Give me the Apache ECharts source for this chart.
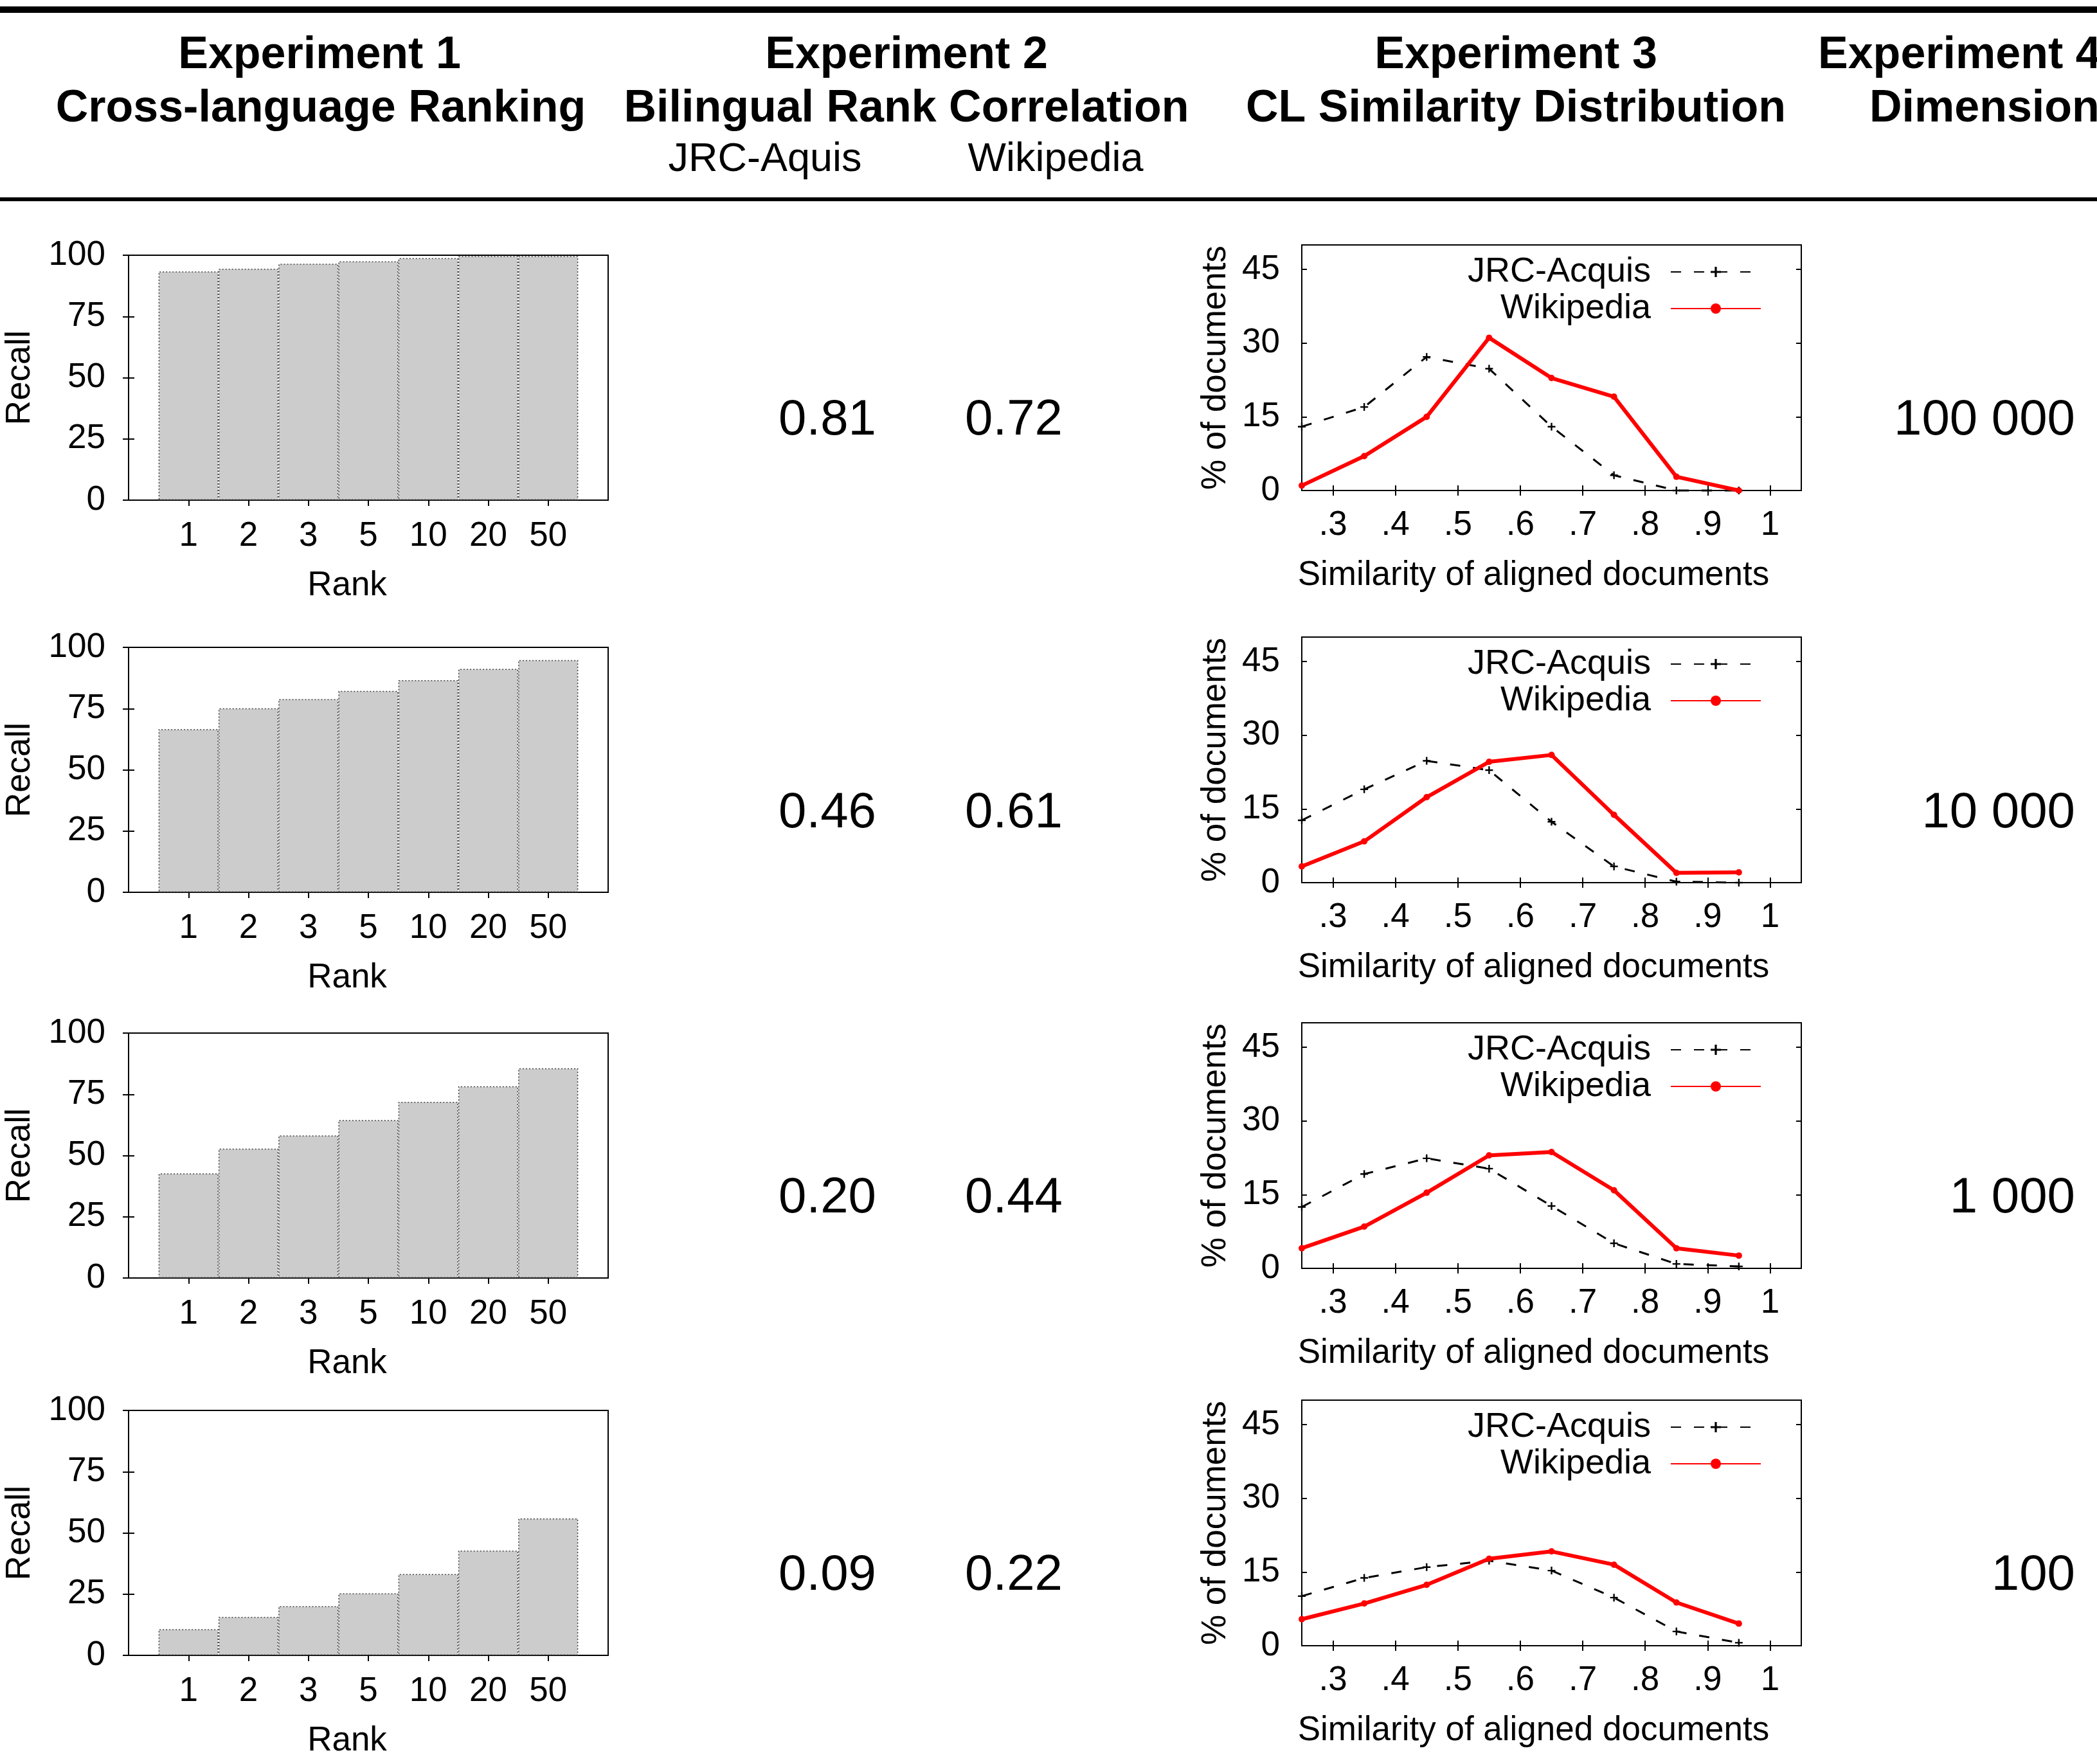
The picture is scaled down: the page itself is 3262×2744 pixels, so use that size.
<!DOCTYPE html>
<html>
<head>
<meta charset="utf-8">
<script src="https://cdn.jsdelivr.net/npm/echarts@6/dist/echarts.min.js"></script>
<style>
  html, body { margin: 0; padding: 0; background: #fff; }
  #chart { width: 3262px; height: 2744px; }
</style>
</head>
<body>
<div id="chart"></div>
<script>
// Experiment 1: recall at rank k, one row per dimension
const rankLabels = ['1', '2', '3', '5', '10', '20', '50']
const recall100k = [93.4, 94.5, 96.5, 97.5, 98.8, 99.7, 99.7]
const recall10k = [66.6, 75.1, 78.9, 82.2, 86.6, 91.2, 94.8]
const recall1k = [42.7, 52.8, 58.2, 64.5, 71.9, 78.3, 85.6]
const recall100 = [10.7, 15.7, 20.1, 25.3, 33.2, 42.8, 55.9]

// Experiment 2: bilingual rank correlation
const corrJrc = ['0.81', '0.46', '0.20', '0.09']
const corrWiki = ['0.72', '0.61', '0.44', '0.22']

// Experiment 3: % of documents per similarity bin
const simBins = [0.25, 0.35, 0.45, 0.55, 0.65, 0.75, 0.85, 0.95]
const simTicks = [0.3, 0.4, 0.5, 0.6, 0.7, 0.8, 0.9, 1]
const docTicks = [0, 15, 30, 45]
const jrc100k = [13.0, 17.0, 27.2, 24.8, 13.0, 3.1, 0, 0]
const wiki100k = [1.0, 7.0, 15.0, 31.1, 22.9, 19.1, 2.8, 0]
const jrc10k = [12.7, 19.0, 24.8, 22.9, 12.4, 3.3, 0.2, 0]
const wiki10k = [3.3, 8.4, 17.4, 24.6, 26.0, 13.8, 2.0, 2.1]
const jrc1k = [12.5, 19.2, 22.4, 20.3, 12.7, 5.1, 0.9, 0.4]
const wiki1k = [4.1, 8.5, 15.4, 23.0, 23.7, 15.9, 4.1, 2.6]
const jrc100 = [10.1, 13.8, 16.0, 17.3, 15.3, 9.8, 2.9, 0.6]
const wiki100 = [5.4, 8.6, 12.4, 17.7, 19.2, 16.5, 8.8, 4.5]

// Experiment 4: dimension of each row
const dimensions = ['100 000', '10 000', '1 000', '100']

const recallRows = [recall100k, recall10k, recall1k, recall100]
const jrcRows = [jrc100k, jrc10k, jrc1k, jrc100]
const wikiRows = [wiki100k, wiki10k, wiki1k, wiki100]

// layout (px)
const FONT = '"Liberation Sans", Arial, Helvetica, sans-serif'
const barTops = [397, 1007, 1607, 2194]
const lineTops = [381, 991, 1591, 2178]
const rowMid = [654, 1265, 1864, 2451]
const barLeft = 200, barWidth = 746, barHeight = 381
const lineLeft = 2025, lineWidth = 777, lineHeight = 382
const plusPath = 'path://M4,0H6V4H10V6H6V10H4V6H0V4H4Z'

const textBase = { fontFamily: FONT, fontSize: 53, color: '#000' }
const tickStyle = { color: '#000', width: 2 }

const grid = [], xAxis = [], yAxis = [], series = [], legend = []

function addBox(top, left, width, height) {
  grid.push({
    left, top, width, height,
    show: true, borderColor: '#000', borderWidth: 2, backgroundColor: 'transparent'
  })
  return grid.length - 1
}

// bar charts (Experiment 1)
const rankPos = rankLabels.map((_, k) => k + 1)
recallRows.forEach((vals, i) => {
  const g = addBox(barTops[i], barLeft, barWidth, barHeight)
  const xi = xAxis.length
  xAxis.push({
    type: 'value', gridIndex: g, min: 0, max: 8, position: 'bottom',
    axisLine: { show: false }, splitLine: { show: false },
    axisTick: { inside: true, length: 9, customValues: rankPos, lineStyle: tickStyle },
    axisLabel: { customValues: rankPos, formatter: v => rankLabels[v - 1], margin: 30, ...textBase },
    name: 'Rank', nameLocation: 'middle', nameGap: 107,
    nameTextStyle: { ...textBase, padding: [0, 66, 0, 0] }
  })
  xAxis.push({
    type: 'value', gridIndex: g, min: 0, max: 8, position: 'top',
    axisLine: { show: false }, splitLine: { show: false }, axisLabel: { show: false },
    axisTick: { inside: true, length: 9, customValues: rankPos, lineStyle: tickStyle }
  })
  const yi = yAxis.length
  yAxis.push({
    type: 'value', gridIndex: g, min: 0, max: 100, interval: 25, position: 'left',
    axisLine: { show: false }, splitLine: { show: false },
    axisTick: { inside: true, length: 9, lineStyle: tickStyle },
    axisLabel: { margin: 36, ...textBase },
    name: 'Recall', nameLocation: 'middle', nameGap: 142, nameTextStyle: textBase
  })
  yAxis.push({
    type: 'value', gridIndex: g, min: 0, max: 100, interval: 25, position: 'right',
    axisLine: { show: false }, splitLine: { show: false }, axisLabel: { show: false },
    axisTick: { inside: true, length: 9, lineStyle: tickStyle }
  })
  series.push({
    type: 'bar', xAxisIndex: xi, yAxisIndex: yi,
    data: vals.map((v, k) => [k + 1, v]),
    barWidth: barWidth / 8,
    itemStyle: { color: '#cccccc', borderColor: '#444', borderWidth: 1.5, borderType: [2, 3] }
  })
})

// line charts (Experiment 3)
jrcRows.forEach((jrc, i) => {
  const g = addBox(lineTops[i], lineLeft, lineWidth, lineHeight)
  const xi = xAxis.length
  xAxis.push({
    type: 'value', gridIndex: g, min: 0.25, max: 1.05, position: 'bottom',
    axisLine: { show: false }, splitLine: { show: false },
    axisTick: { inside: true, length: 8, customValues: simTicks, lineStyle: tickStyle },
    axisLabel: {
      customValues: simTicks, margin: 28, ...textBase,
      formatter: v => v >= 1 ? '1' : '.' + Math.round(v * 10)
    },
    name: 'Similarity of aligned documents', nameLocation: 'middle', nameGap: 106,
    nameTextStyle: { ...textBase, padding: [0, 56, 0, 0] }
  })
  xAxis.push({
    type: 'value', gridIndex: g, min: 0.25, max: 1.05, position: 'top',
    axisLine: { show: false }, splitLine: { show: false }, axisLabel: { show: false },
    axisTick: { inside: true, length: 8, customValues: simTicks, lineStyle: tickStyle }
  })
  const yi = yAxis.length
  yAxis.push({
    type: 'value', gridIndex: g, min: 0, max: 50, position: 'left',
    axisLine: { show: false }, splitLine: { show: false },
    axisTick: { inside: true, length: 8, customValues: docTicks, lineStyle: tickStyle },
    axisLabel: { customValues: docTicks, margin: 34, ...textBase },
    name: '% of documents', nameLocation: 'middle', nameGap: 107, nameTextStyle: textBase
  })
  yAxis.push({
    type: 'value', gridIndex: g, min: 0, max: 50, position: 'right',
    axisLine: { show: false }, splitLine: { show: false }, axisLabel: { show: false },
    axisTick: { inside: true, length: 8, customValues: docTicks, lineStyle: tickStyle }
  })
  series.push({
    name: 'JRC-Acquis', type: 'line', xAxisIndex: xi, yAxisIndex: yi, clip: false, z: 3,
    data: simBins.map((x, k) => [x, jrc[k]]),
    symbol: plusPath, symbolSize: 12,
    itemStyle: { color: '#000' },
    lineStyle: { color: '#000', width: 3, type: [16, 20] }
  })
  series.push({
    name: 'Wikipedia', type: 'line', xAxisIndex: xi, yAxisIndex: yi, clip: false, z: 4,
    data: simBins.map((x, k) => [x, wikiRows[i][k]]),
    symbol: 'circle', symbolSize: 10,
    itemStyle: { color: '#ff0000' },
    lineStyle: { color: '#ff0000', width: 6 }
  })
  legend.push({
    data: ['JRC-Acquis', 'Wikipedia'], selectedMode: false,
    orient: 'vertical', align: 'right',
    right: 3262 - 2745, top: lineTops[i] + 10,
    itemWidth: 140, itemHeight: 20, itemGap: 3,
    textStyle: { ...textBase, fontSize: 54, lineHeight: 50, padding: [0, 26, 0, 0] }
  })
})

// header and table text
function text(str, x, y, size, opts = {}) {
  return {
    type: 'text', x, y, silent: true,
    style: {
      text: str, fill: '#000', textAlign: opts.align || 'center', textVerticalAlign: 'middle',
      font: (opts.bold ? 'bold ' : '') + size + 'px ' + FONT
    }
  }
}

const graphic = [
  { type: 'rect', shape: { x: 0, y: 10, width: 3262, height: 10 }, style: { fill: '#000' } },
  { type: 'rect', shape: { x: 0, y: 307, width: 3262, height: 6 }, style: { fill: '#000' } },
  text('Experiment 1', 497, 87, 70, { bold: true }),
  text('Cross-language Ranking', 499, 170, 70, { bold: true }),
  text('Experiment 2', 1410, 87, 70, { bold: true }),
  text('Bilingual Rank Correlation', 1410, 170, 70, { bold: true }),
  text('JRC-Aquis', 1190, 249, 63),
  text('Wikipedia', 1642, 249, 63),
  text('Experiment 3', 2358, 87, 70, { bold: true }),
  text('CL Similarity Distribution', 2358, 170, 70, { bold: true }),
  text('Experiment 4', 2828, 87, 70, { bold: true, align: 'left' }),
  text('Dimension', 2908, 170, 70, { bold: true, align: 'left' })
]
rowMid.forEach((y, i) => {
  graphic.push(text(corrJrc[i], 1287, y, 78))
  graphic.push(text(corrWiki[i], 1577, y, 78))
  graphic.push(text(dimensions[i], 3228, y, 78, { align: 'right' }))
})

const chart = echarts.init(document.getElementById('chart'))
chart.setOption({
  animation: false,
  backgroundColor: '#fff',
  grid, xAxis, yAxis, series, legend, graphic
})
</script>
</body>
</html>
